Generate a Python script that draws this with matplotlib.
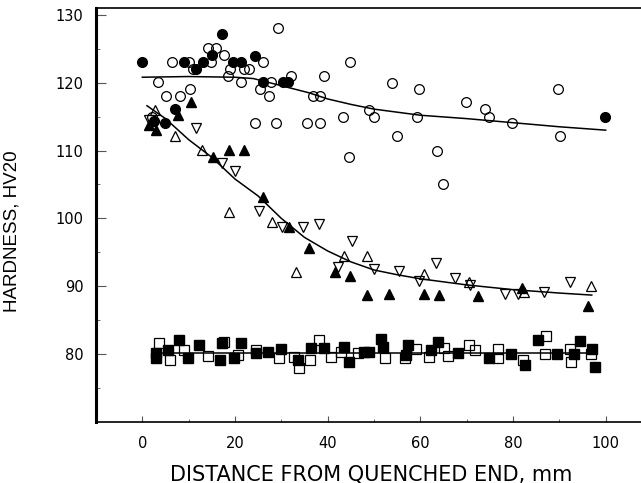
import matplotlib
matplotlib.use("Agg")
import matplotlib.pyplot as plt

plt.rcParams["font.family"] = ["Liberation Sans", "DejaVu Sans"]

# Filled circles
fc_x = [0, 2.6, 4.8, 7.1, 8.9, 11.6, 13.0, 15.0, 17.2, 19.5, 21.4, 24.4, 26.1, 30.4, 31.4, 99.8]
fc_y = [123.1, 114.3, 114.1, 116.1, 123.1, 122.0, 123.1, 124.1, 127.1, 123.1, 123.1, 124.0, 120.1, 120.1, 120.1, 115.0]

# Open circles
oc_x = [29.2, 6.4, 10.0, 26.1, 14.1, 15.9, 17.7, 10.9, 18.9, 22.0, 23.0, 3.3, 18.4, 21.3, 27.8,
        32.1, 39.2, 44.9, 10.2, 5.1, 8.1, 25.3, 27.4, 36.9, 38.4, 24.3, 28.9, 35.5, 38.4, 43.4,
        48.9, 44.7, 53.8, 59.8, 49.9, 59.3, 69.8, 73.9, 74.9, 79.8, 89.8, 90.2, 54.9, 63.6, 64.9,
        14.8, 2.0]
oc_y = [128.0, 123.1, 123.1, 123.1, 125.1, 125.1, 124.1, 122.0, 122.0, 122.0, 122.0, 120.1, 121.0, 120.1, 120.1,
        121.0, 121.0, 123.1, 119.0, 118.0, 118.0, 119.0, 118.0, 118.0, 118.0, 114.0, 114.0, 114.0, 114.0, 115.0,
        116.0, 109.0, 120.0, 119.0, 115.0, 115.0, 117.1, 116.1, 115.0, 114.0, 119.0, 112.1, 112.1, 110.0, 105.0,
        123.1, 115.0]

# Filled up-triangles
ft_x = [1.5, 3.0, 7.6, 10.5, 15.3, 18.8, 22.0, 26.0, 31.7, 35.9, 41.5, 44.9, 48.5, 53.2, 60.7, 64.0, 72.4, 82.0, 96.2]
ft_y = [113.8, 113.0, 115.2, 117.1, 109.1, 110.1, 110.1, 103.1, 98.8, 95.7, 92.1, 91.5, 88.7, 88.8, 88.8, 88.7, 88.6, 89.8, 87.1]

# Open up-triangles
ot_x = [2.8, 7.1, 12.9, 18.6, 28.0, 33.2, 43.6, 48.5, 60.7, 70.5, 82.3, 96.9]
ot_y = [116.0, 112.1, 110.1, 101.0, 99.4, 92.1, 94.4, 94.5, 91.8, 90.6, 89.2, 90.0]

# Open down-triangles
od_x = [1.5, 11.6, 17.2, 19.9, 25.1, 30.2, 34.6, 38.1, 42.2, 45.3, 50.1, 55.5, 59.8, 63.4, 67.4,
        70.8, 78.2, 81.1, 86.6, 92.4]
od_y = [114.5, 113.3, 108.1, 107.0, 101.1, 98.7, 98.7, 99.2, 92.8, 96.6, 92.6, 92.3, 90.8, 93.5, 91.2,
        90.2, 88.8, 88.8, 89.2, 90.6]

# Filled squares
fs_x = [8.0, 3.0, 3.0, 5.5, 12.3, 9.8, 17.3, 21.3, 16.8, 19.7, 24.6, 27.1, 30.0, 33.5, 36.4, 39.3,
        43.6, 44.7, 47.9, 51.6, 51.9, 49.0, 57.3, 56.8, 63.8, 62.3, 68.1, 74.9, 79.6, 82.5, 85.4,
        89.4, 93.1, 94.4, 97.1, 97.8]
fs_y = [82.1, 80.1, 79.4, 80.6, 81.3, 79.4, 81.6, 81.6, 79.1, 79.4, 80.2, 80.3, 80.8, 79.1, 80.9, 80.9,
        81.1, 78.9, 80.3, 82.3, 81.1, 80.3, 81.4, 79.9, 81.8, 80.6, 80.1, 79.4, 80.0, 78.4, 82.1,
        80.0, 80.0, 81.9, 80.8, 78.1]

# Open squares
os_x = [3.5, 6.0, 9.1, 14.1, 17.7, 20.6, 24.6, 29.6, 32.8, 33.9, 36.1, 38.2, 40.8, 42.9, 46.5,
        52.3, 59.1, 56.6, 61.8, 65.2, 65.9, 70.6, 71.7, 76.7, 76.7, 82.1, 87.2, 86.8, 92.2, 92.6, 96.9]
os_y = [81.6, 79.2, 80.6, 79.7, 81.8, 79.9, 80.6, 79.4, 79.6, 78.0, 79.1, 82.1, 79.6, 80.3, 80.1,
        79.4, 80.7, 79.4, 79.6, 80.9, 79.7, 81.3, 80.6, 80.8, 79.4, 79.1, 82.7, 80.0, 80.7, 78.9, 80.0]

# Fitted curves
cc_x = [0, 10, 20, 24, 28, 32, 36, 40, 45, 50, 60, 70, 80, 90, 100]
cc_y = [120.8, 120.9, 120.8, 120.6, 119.9, 119.2, 118.5, 117.6, 116.8, 116.1, 115.2, 114.7, 114.1, 113.5, 113.0]

tc_x = [1, 5, 10, 15, 20, 25, 30, 35, 40, 45, 50, 55, 60, 70, 80, 90, 97]
tc_y = [116.6, 114.7, 111.6, 109.0, 105.8, 103.3, 100.0, 97.2, 95.2, 93.6, 92.4, 91.7, 91.1, 90.2, 89.5, 89.0, 88.7]

sc_x = [2, 98]
sc_y = [80.2, 80.2]

fig = plt.figure(figsize=(6.41, 4.83), dpi=100)
ax = fig.add_axes([96 / 641, 1 - 422 / 483, 556 / 641, 414 / 483])

ax.plot(cc_x, cc_y, color="black", lw=1.1)
ax.plot(tc_x, tc_y, color="black", lw=1.1)
ax.plot(sc_x, sc_y, color="black", lw=1.1)

ms = 7
ax.plot(oc_x, oc_y, "o", ls="none", ms=ms, mfc="none", mec="black", mew=0.9)
ax.plot(fc_x, fc_y, "o", ls="none", ms=ms, mfc="black", mec="black")
ax.plot(ot_x, ot_y, "^", ls="none", ms=ms, mfc="none", mec="black", mew=0.9)
ax.plot(od_x, od_y, "v", ls="none", ms=ms, mfc="none", mec="black", mew=0.9)
ax.plot(ft_x, ft_y, "^", ls="none", ms=ms, mfc="black", mec="black")
ax.plot(os_x, os_y, "s", ls="none", ms=7.5, mfc="none", mec="black", mew=0.9)
ax.plot(fs_x, fs_y, "s", ls="none", ms=7.5, mfc="black", mec="black")

ax.set_xlim(-10, 110)
ax.set_ylim(70, 131)
ax.set_xticks([0, 20, 40, 60, 80, 100])
ax.set_xticks([10, 30, 50, 70, 90], minor=True)
ax.set_yticks([80, 90, 100, 110, 120, 130])
ax.set_yticks([75, 85, 95, 105, 115, 125], minor=True)

ax.tick_params(axis="both", which="both", direction="in", colors="#555555", labelcolor="black")
ax.tick_params(axis="y", which="major", length=7, pad=9)
ax.tick_params(axis="y", which="minor", length=3)
ax.tick_params(axis="x", which="major", length=4.5, pad=10)
ax.tick_params(axis="x", which="minor", length=2)
for lab in ax.get_xticklabels() + ax.get_yticklabels():
    lab.set_family(["DejaVu Sans"])
    lab.set_fontsize(10.5)

ax.spines["left"].set_linewidth(2.2)
ax.spines["bottom"].set_linewidth(1.2)
ax.spines["top"].set_linewidth(1.2)
ax.spines["right"].set_visible(False)

ax.set_xlabel("DISTANCE FROM QUENCHED END, mm", fontsize=15, family=["DejaVu Sans"])
ax.set_ylabel("HARDNESS, HV20", fontsize=13.5)
ax.xaxis.set_label_coords(0.495, -0.102)
ax.yaxis.set_label_coords(-0.135, 0.46)

fig.savefig("out.png", dpi=100)
